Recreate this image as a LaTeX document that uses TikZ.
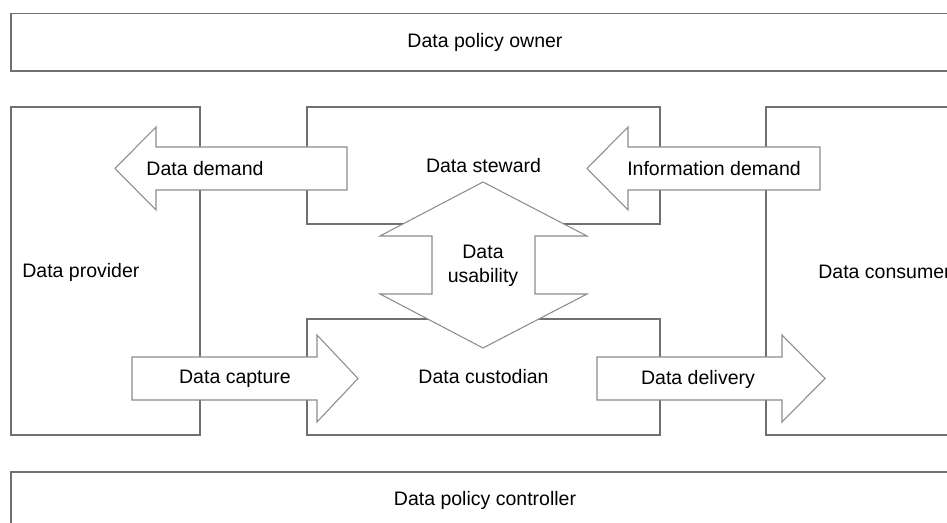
\documentclass[tikz,border=0pt]{standalone}
\usepackage{fontspec}
\setmainfont{Liberation Sans}
\definecolor{boxline}{RGB}{112,112,112}
\definecolor{arrowline}{RGB}{140,140,140}
\tikzset{
  rolebox/.style={draw=boxline, line width=0.8pt, fill=white, inner sep=0pt},
  blockarrow/.style={draw=arrowline, line width=0.6pt, fill=white, line join=miter},
}

\begin{document}
\begin{tikzpicture}[font=\fontsize{11.1pt}{13.6pt}\selectfont]
\clip (0,0) rectangle (18.94,-10.46);
%% policy boxes
\node[rolebox, minimum width=18.96cm, minimum height=1.15cm] (owner) at (9.70,-0.845) {Data policy owner};
\node[rolebox, minimum width=18.96cm, minimum height=1.14cm] (controller) at (9.70,-10.01) {Data policy controller};
%% role boxes
\node[rolebox, minimum width=3.78cm, minimum height=6.56cm] (provider) at (2.11,-5.42) {};
\node[anchor=west, inner sep=0pt] (providertext) at (0.44,-5.44) {Data provider};
\node[rolebox, minimum width=4.72cm, minimum height=6.56cm] (consumer) at (17.68,-5.42) {};
\node[anchor=west, inner sep=0pt] (consumertext) at (16.36,-5.44) {Data consumer};
\node[rolebox, minimum width=7.06cm, minimum height=2.34cm] (steward) at (9.67,-3.31) {Data steward};
\node[rolebox, minimum width=7.06cm, minimum height=2.32cm] (custodian) at (9.67,-7.54) {Data custodian};

%%% block arrows
% left pointing
\draw[blockarrow] (2.30,-3.37) -- (3.12,-2.54) -- (3.12,-2.94) -- (6.94,-2.94)
  -- (6.94,-3.80) -- (3.12,-3.80) -- (3.12,-4.20) -- cycle;
\node (demand) at (4.10,-3.37) {Data demand};
\draw[blockarrow] (11.74,-3.37) -- (12.56,-2.54) -- (12.56,-2.94) -- (16.40,-2.94)
  -- (16.40,-3.80) -- (12.56,-3.80) -- (12.56,-4.20) -- cycle;
\node (infodemand) at (14.28,-3.37) {Information demand};
% right pointing
\draw[blockarrow] (7.16,-7.57) -- (6.34,-6.70) -- (6.34,-7.14) -- (2.64,-7.14)
  -- (2.64,-8.00) -- (6.34,-8.00) -- (6.34,-8.44) -- cycle;
\node (capture) at (4.70,-7.58) {Data capture};
\draw[blockarrow] (16.50,-7.57) -- (15.64,-6.70) -- (15.64,-7.14) -- (11.94,-7.14)
  -- (11.94,-8.00) -- (15.64,-8.00) -- (15.64,-8.44) -- cycle;
\node (delivery) at (13.96,-7.58) {Data delivery};
% up and down
\draw[blockarrow] (9.66,-3.64) -- (11.74,-4.72) -- (10.70,-4.72) -- (10.70,-5.88)
  -- (11.74,-5.88) -- (9.66,-6.96) -- (7.60,-5.88) -- (8.64,-5.88)
  -- (8.64,-4.72) -- (7.60,-4.72) -- cycle;
\node[align=center] (usability) at (9.66,-5.32) {Data\\usability};
\end{tikzpicture}
\end{document}
